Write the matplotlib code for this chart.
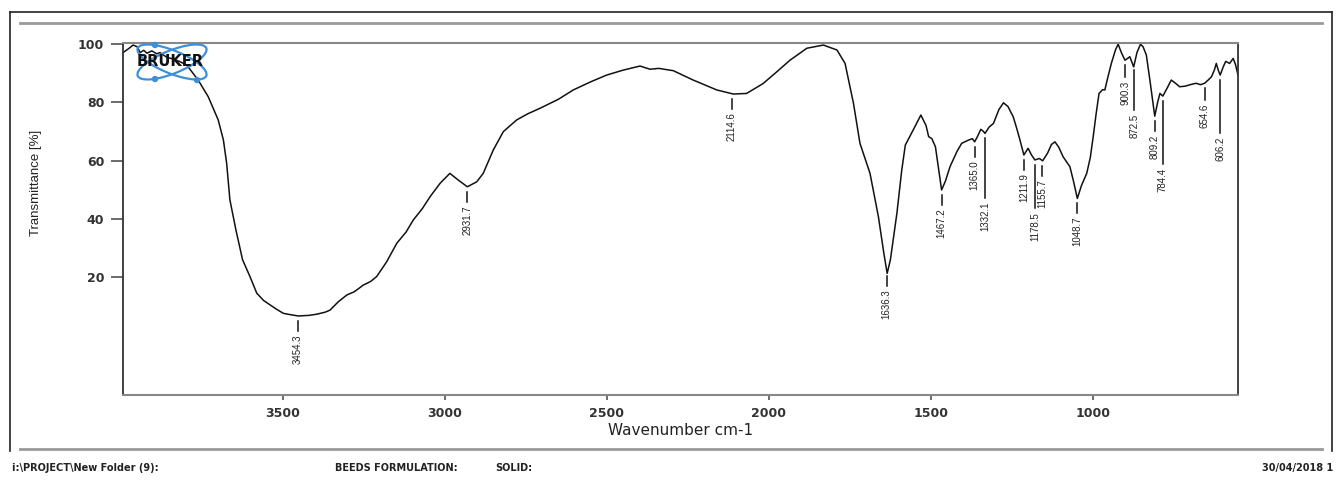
import matplotlib
matplotlib.use("Agg")
import matplotlib.pyplot as plt
import numpy as np
from matplotlib.patches import Ellipse
from matplotlib.lines import Line2D
from matplotlib.transforms import IdentityTransform

# spectrum (wavenumber cm-1, transmittance %)
wavenumber = [3994, 3975, 3963, 3950, 3941, 3930, 3920, 3905, 3890, 3880, 3860,
              3840, 3818, 3797, 3762, 3731, 3700, 3684, 3674, 3664, 3645, 3625,
              3602, 3581, 3560, 3540, 3520, 3499, 3480, 3453, 3420, 3396, 3370,
              3355, 3330, 3303, 3280, 3252, 3230, 3211, 3180, 3149, 3120, 3098,
              3070, 3046, 3015, 2985, 2959, 2931, 2902, 2882, 2851, 2820, 2779,
              2745, 2707, 2650, 2604, 2550, 2501, 2450, 2398, 2367, 2340, 2295,
              2234, 2161, 2110, 2069, 2018, 1975, 1935, 1883, 1832, 1790, 1765,
              1739, 1719, 1688, 1662, 1645, 1635, 1625, 1605, 1590, 1579, 1555,
              1531, 1515, 1507, 1497, 1486, 1475, 1467, 1455, 1441, 1420, 1405,
              1384, 1372, 1365, 1355, 1346, 1338, 1333, 1320, 1307, 1290, 1276,
              1262, 1246, 1235, 1225, 1213, 1200, 1190, 1179, 1165, 1155, 1140,
              1128, 1117, 1105, 1092, 1071, 1060, 1048, 1035, 1019, 1008, 999,
              990, 981, 970, 963, 955, 943, 930, 922, 912, 901, 893, 886, 874,
              864, 853, 845, 835, 824, 815, 809, 800, 793, 784, 770, 758, 745,
              732, 715, 700, 681, 668, 655, 645, 634, 625, 619, 613, 607, 598,
              590, 578, 567, 560, 552]
transmittance = [97.0, 98.5, 99.6, 99.0, 97.0, 97.8, 96.8, 97.6, 96.6, 97.0, 95.5,
                 94.8, 93.9, 92.7, 87.6, 81.9, 73.9, 67.0, 59.0, 46.5, 36.0, 26.0,
                 20.2, 14.5, 12.0, 10.5, 9.0, 7.6, 7.2, 6.7, 6.9, 7.3, 8.0,
                 8.7, 11.5, 13.9, 15.0, 17.3, 18.5, 20.2, 25.3, 31.6, 35.5, 39.6,
                 43.5, 47.6, 52.2, 55.6, 53.3, 51.0, 52.7, 55.6, 63.6, 69.9, 73.9,
                 76.0, 77.9, 81.0, 84.2, 87.0, 89.3, 91.0, 92.4, 91.3, 91.6, 90.8,
                 87.6, 84.2, 82.8, 83.0, 86.4, 90.5, 94.4, 98.5, 99.6, 97.9, 93.3,
                 79.6, 65.9, 55.6, 40.7, 28.0, 21.3, 26.0, 41.9, 56.7, 65.3, 70.4,
                 75.6, 72.0, 68.2, 67.5, 64.7, 56.0, 49.9, 53.0, 57.9, 63.0, 65.9,
                 67.0, 67.5, 66.4, 68.5, 70.7, 70.0, 69.3, 71.5, 72.7, 77.5, 79.8,
                 78.5, 75.0, 71.0, 67.0, 61.9, 64.2, 62.0, 60.2, 60.7, 59.9, 62.5,
                 65.5, 66.4, 64.5, 61.3, 57.9, 53.0, 47.0, 51.5, 55.6, 61.0, 68.2,
                 76.0, 83.0, 84.3, 84.2, 88.0, 93.3, 98.0, 99.9, 97.0, 94.4, 95.0, 95.6, 92.1,
                 97.0, 99.9, 99.0, 96.2, 87.6, 80.0, 75.2, 80.0, 83.0, 82.1, 85.0, 87.6, 86.5,
                 85.3, 85.5, 86.0, 86.5, 86.0, 86.5, 87.5, 88.7, 91.0, 93.3, 91.0, 89.3, 92.0,
                 94.0, 93.3, 95.0, 93.0, 89.3]

peak_wn = [3454.3, 2931.7, 2114.6, 1636.3, 1467.2, 1365.0, 1332.1, 1211.9,
           1178.5, 1155.7, 1048.7, 900.3, 872.5, 809.2, 784.4, 654.6, 606.2]

x_ticks = [3500, 3000, 2500, 2000, 1500, 1000]
y_ticks = [20, 40, 60, 80, 100]

footer_left = "i:\\PROJECT\\New Folder (9):"
footer_mid = "BEEDS FORMULATION:"
footer_solid = "SOLID:"
footer_date = "30/04/2018 1"

# layout: length of the leader line under each peak (in % units)
lead_len = {1332.1: 20.5, 1178.5: 14.8, 872.5: 13.7, 784.4: 21.7,
            606.2: 18.3, 900.3: 4.0, 654.6: 4.0}

W, H = 1342, 480
fig = plt.figure(figsize=(W / 100, H / 100), dpi=100)
ax = fig.add_axes([123 / W, 1 - 395 / H, 1115 / W, 352 / H])

ax.plot(wavenumber, transmittance, color="#111111", lw=1.1)
ax.set_xlim(3994, 552)
ax.set_ylim(-20.4, 100.3)

ax.set_xticks(x_ticks)
ax.set_yticks(y_ticks)
ax.tick_params(axis="y", direction="out", length=8.5, width=1.1, pad=5,
               color="#444444", labelcolor="#333333", labelsize=9)
ax.tick_params(axis="x", direction="out", length=3.5, width=1.1, pad=5,
               color="#444444", labelcolor="#333333", labelsize=9)
for lab in ax.get_xticklabels() + ax.get_yticklabels():
    lab.set_fontweight("bold")
    lab.set_family("DejaVu Sans")

for side in ["left", "right"]:
    ax.spines[side].set_color("#333333")
    ax.spines[side].set_linewidth(1.3)
for side in ["top", "bottom"]:
    ax.spines[side].set_color("#888888")
    ax.spines[side].set_linewidth(1.5)

ax.set_xlabel("Wavenumber cm-1", fontsize=11, color="#222222", family="DejaVu Sans")
ax.xaxis.set_label_coords(0.5, -0.08)
ax.set_ylabel("Transmittance [%]", fontsize=9.5, color="#222222",
              family=["Liberation Sans Narrow", "Liberation Sans"])
ax.yaxis.set_label_coords(-0.0726, 0.602)

# peak labels
wn_rev = np.array(wavenumber[::-1], dtype=float)
tr_rev = np.array(transmittance[::-1], dtype=float)
for p in peak_wn:
    yv = np.interp(p, wn_rev, tr_rev)
    top = yv - 1.8
    bot = top - lead_len.get(p, 3.4)
    ax.plot([p, p], [top, bot], color="#111111", lw=1.1)
    ax.text(p, bot - 1.2, f"{p:.1f}", rotation=90, ha="center", va="top",
            fontsize=7.0, color="#222222",
            family=["Liberation Sans Narrow", "Liberation Sans"])

# Bruker logo (pixel coordinates, origin bottom-left)
pix = IdentityTransform()
for ang in (22, -22):
    fig.patches.append(Ellipse((172, H - 62), 74, 23, angle=ang, fill=False,
                               edgecolor="#3f8fd8", lw=1.6, transform=pix))
for (px, py) in [(155, 45), (155, 79), (197, 80)]:
    fig.patches.append(Ellipse((px, H - py), 5, 5, color="#3f8fd8", transform=pix))
fig.text(170 / W, 1 - 62 / H, "BRUKER", ha="center", va="center", fontsize=10.5,
         fontweight="bold", color="#111111", family="DejaVu Sans")

# outer frame and header/footer rules
fig.lines.append(Line2D([10, 1332], [H - 12, H - 12], color="#222222", lw=1.2, transform=pix))
fig.lines.append(Line2D([10, 10], [H - 12, H - 451], color="#222222", lw=1.2, transform=pix))
fig.lines.append(Line2D([1332, 1332], [H - 12, H - 451], color="#222222", lw=1.2, transform=pix))
fig.lines.append(Line2D([20, 1322], [H - 23, H - 23], color="#999999", lw=2.0, transform=pix))
fig.lines.append(Line2D([20, 1322], [H - 449, H - 449], color="#999999", lw=2.0, transform=pix))

fy = 1 - 468 / H
fkw = dict(fontsize=7, fontweight="bold", color="#222222", va="center",
           family="DejaVu Sans")
fig.text(12 / W, fy, footer_left, ha="left", **fkw)
fig.text(335 / W, fy, footer_mid, ha="left", **fkw)
fig.text(495 / W, fy, footer_solid, ha="left", **fkw)
fig.text(1262 / W, fy, footer_date, ha="left", **fkw)

fig.savefig("out.png", dpi=100)
